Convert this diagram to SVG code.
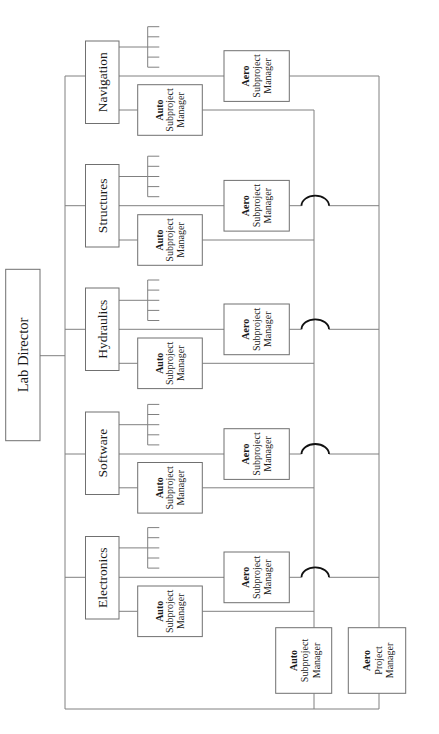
<svg xmlns="http://www.w3.org/2000/svg" width="439" height="734" viewBox="0 0 439 734">
<style>
.bx{fill:#fff;stroke:#707070;stroke-width:1}
.ln{fill:none;stroke:#808080;stroke-width:1}
.jmp{fill:none;stroke:#111;stroke-width:1.8}
text{font-family:"Liberation Serif","Times New Roman",serif;fill:#1a1a1a;text-anchor:middle}
.dept{font-size:13.5px}
.dir{font-size:14.5px}
.sm{font-size:10px}
.b{font-weight:bold}
</style>
<rect width="439" height="734" fill="#fff"/>
<g id="connectors">
<path class="ln" d="M65,76 V709 H379 M314,693.3 V709 M379,693.3 V709 M40,355.7 H65"/>
<!-- Navigation -->
<path class="ln" d="M65,76 H85.5 M119,76 H224 M289.3,76 H379 V627.7 M119,110 H137.7 M202.3,110 H314 V627.7"/>
<path class="ln" d="M119,47 H147.7 M147.7,26.7 V67.2 M147.7,26.7 H159.3 M147.7,36.8 H159.3 M147.7,47 H159.3 M147.7,57.1 H159.3 M147.7,67.2 H159.3"/>
<!-- Structures -->
<path class="ln" d="M65,205.7 H85.5 M119,205.7 H224 M289.3,205.7 H301.5 M329,205.7 H379 M119,240 H137.7 M202.3,240 H314"/>
<path class="jmp" d="M301.5,205.7 A13.75,10 0 0 1 329,205.7"/>
<path class="ln" d="M119,176.5 H147.7 M147.7,156.2 V196.7 M147.7,156.2 H159.3 M147.7,166.3 H159.3 M147.7,176.5 H159.3 M147.7,186.6 H159.3 M147.7,196.7 H159.3"/>
<!-- Hydraulics -->
<path class="ln" d="M65,329.3 H85.5 M119,329.3 H224 M289.3,329.3 H301.5 M329,329.3 H379 M119,363.3 H137.7 M202.3,363.3 H314"/>
<path class="jmp" d="M301.5,329.3 A13.75,10 0 0 1 329,329.3"/>
<path class="ln" d="M119,300.3 H147.7 M147.7,280 V320.5 M147.7,280 H159.3 M147.7,290.1 H159.3 M147.7,300.3 H159.3 M147.7,310.4 H159.3 M147.7,320.5 H159.3"/>
<!-- Software -->
<path class="ln" d="M65,454 H85.5 M119,454 H224 M289.3,454 H301.5 M329,454 H379 M119,487.8 H137.7 M202.3,487.8 H314"/>
<path class="jmp" d="M301.5,454 A13.75,10 0 0 1 329,454"/>
<path class="ln" d="M119,424.7 H147.7 M147.7,404.4 V444.9 M147.7,404.4 H159.3 M147.7,414.5 H159.3 M147.7,424.7 H159.3 M147.7,434.8 H159.3 M147.7,444.9 H159.3"/>
<!-- Electronics -->
<path class="ln" d="M65,577.3 H85.5 M119,577.3 H224 M289.3,577.3 H301.5 M329,577.3 H379 M119,611.3 H137.7 M202.3,611.3 H314"/>
<path class="jmp" d="M301.5,577.3 A13.75,10 0 0 1 329,577.3"/>
<path class="ln" d="M119,547.9 H147.7 M147.7,527.6 V568.1 M147.7,527.6 H159.3 M147.7,537.7 H159.3 M147.7,547.9 H159.3 M147.7,558 H159.3 M147.7,568.1 H159.3"/>
</g>
<g id="lab-director">
<rect class="bx" x="5.7" y="269.3" width="34.3" height="171.4"/>
<text class="dir" transform="translate(27.6,355) rotate(-90)">Lab Director</text>
</g>
<g id="navigation">
<rect class="bx" x="85.5" y="41" width="33.5" height="82.5"/>
<text class="dept" transform="translate(106.75,82.25) rotate(-90)">Navigation</text>
</g>
<g id="structures">
<rect class="bx" x="85.5" y="164.5" width="33.5" height="82.5"/>
<text class="dept" transform="translate(106.75,205.75) rotate(-90)">Structures</text>
</g>
<g id="hydraulics">
<rect class="bx" x="85.5" y="288" width="33.5" height="82.5"/>
<text class="dept" transform="translate(106.75,329.25) rotate(-90)">Hydraulics</text>
</g>
<g id="software">
<rect class="bx" x="85.5" y="412" width="33.5" height="82.5"/>
<text class="dept" transform="translate(106.75,453.25) rotate(-90)">Software</text>
</g>
<g id="electronics">
<rect class="bx" x="85.5" y="536.5" width="33.5" height="82.5"/>
<text class="dept" transform="translate(106.75,577.75) rotate(-90)">Electronics</text>
</g>
<g id="nav-auto">
<rect class="bx" x="137.7" y="84.7" width="64.6" height="50.6"/>
<text class="sm" transform="translate(170,110) rotate(-90)"><tspan class="b" x="0" y="-7.5">Auto</tspan><tspan x="0" y="3.3">Subproject</tspan><tspan x="0" y="14">Manager</tspan></text>
</g>
<g id="nav-aero">
<rect class="bx" x="224" y="50.7" width="65.3" height="50.7"/>
<text class="sm" transform="translate(256.65,76) rotate(-90)"><tspan class="b" x="0" y="-7.5">Aero</tspan><tspan x="0" y="3.3">Subproject</tspan><tspan x="0" y="14">Manager</tspan></text>
</g>
<g id="str-auto">
<rect class="bx" x="137.7" y="214.7" width="64.6" height="50.6"/>
<text class="sm" transform="translate(170,240) rotate(-90)"><tspan class="b" x="0" y="-7.5">Auto</tspan><tspan x="0" y="3.3">Subproject</tspan><tspan x="0" y="14">Manager</tspan></text>
</g>
<g id="str-aero">
<rect class="bx" x="224" y="180.4" width="65.3" height="50.7"/>
<text class="sm" transform="translate(256.65,205.7) rotate(-90)"><tspan class="b" x="0" y="-7.5">Aero</tspan><tspan x="0" y="3.3">Subproject</tspan><tspan x="0" y="14">Manager</tspan></text>
</g>
<g id="hyd-auto">
<rect class="bx" x="137.7" y="338" width="64.6" height="50.6"/>
<text class="sm" transform="translate(170,363.3) rotate(-90)"><tspan class="b" x="0" y="-7.5">Auto</tspan><tspan x="0" y="3.3">Subproject</tspan><tspan x="0" y="14">Manager</tspan></text>
</g>
<g id="hyd-aero">
<rect class="bx" x="224" y="304" width="65.3" height="50.7"/>
<text class="sm" transform="translate(256.65,329.3) rotate(-90)"><tspan class="b" x="0" y="-7.5">Aero</tspan><tspan x="0" y="3.3">Subproject</tspan><tspan x="0" y="14">Manager</tspan></text>
</g>
<g id="sw-auto">
<rect class="bx" x="137.7" y="462.5" width="64.6" height="50.6"/>
<text class="sm" transform="translate(170,487.8) rotate(-90)"><tspan class="b" x="0" y="-7.5">Auto</tspan><tspan x="0" y="3.3">Subproject</tspan><tspan x="0" y="14">Manager</tspan></text>
</g>
<g id="sw-aero">
<rect class="bx" x="224" y="428.7" width="65.3" height="50.7"/>
<text class="sm" transform="translate(256.65,454) rotate(-90)"><tspan class="b" x="0" y="-7.5">Aero</tspan><tspan x="0" y="3.3">Subproject</tspan><tspan x="0" y="14">Manager</tspan></text>
</g>
<g id="el-auto">
<rect class="bx" x="137.7" y="586" width="64.6" height="50.6"/>
<text class="sm" transform="translate(170,611.3) rotate(-90)"><tspan class="b" x="0" y="-7.5">Auto</tspan><tspan x="0" y="3.3">Subproject</tspan><tspan x="0" y="14">Manager</tspan></text>
</g>
<g id="el-aero">
<rect class="bx" x="224" y="552" width="65.3" height="50.7"/>
<text class="sm" transform="translate(256.65,577.3) rotate(-90)"><tspan class="b" x="0" y="-7.5">Aero</tspan><tspan x="0" y="3.3">Subproject</tspan><tspan x="0" y="14">Manager</tspan></text>
</g>
<g id="auto-lead">
<rect class="bx" x="275.7" y="627.7" width="56" height="65.6"/>
<text class="sm" transform="translate(303.7,660.5) rotate(-90)"><tspan class="b" x="0" y="-7">Auto</tspan><tspan x="0" y="4.5">Subproject</tspan><tspan x="0" y="16">Manager</tspan></text>
</g>
<g id="aero-pm">
<rect class="bx" x="348.3" y="627.7" width="57.4" height="65.6"/>
<text class="sm" transform="translate(377,660.5) rotate(-90)"><tspan class="b" x="0" y="-7">Aero</tspan><tspan x="0" y="4.5">Project</tspan><tspan x="0" y="16">Manager</tspan></text>
</g>
</svg>
